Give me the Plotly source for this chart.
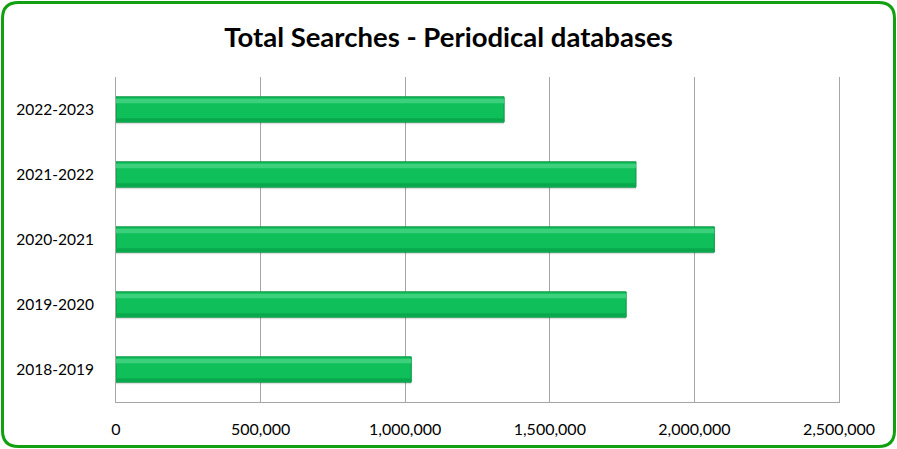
import plotly.graph_objects as go

categories = ["2018-2019", "2019-2020", "2020-2021", "2021-2022", "2022-2023"]
searches = [1021000, 1764000, 2069000, 1798000, 1342000]
tick_vals = [0, 500000, 1000000, 1500000, 2000000, 2500000]
tick_text = ["0", "500,000", "1,000,000", "1,500,000", "2,000,000", "2,500,000"]

W, H = 897, 449
L, R, T, B = 116, 58, 77, 47
pw, ph = W - L - R, H - T - B

fig = go.Figure()
bw = 0.39
# shadow
fig.add_trace(go.Bar(y=categories, x=searches, orientation="h", width=bw, offset=-bw/2 - 0.03,
                     marker=dict(color="rgba(0,0,0,0.12)", line=dict(width=0)), hoverinfo="skip"))
# main bar
fig.add_trace(go.Bar(y=categories, x=searches, orientation="h", width=bw, offset=-bw/2,
                     marker=dict(color="#0fbf5a", line=dict(color="#0a9444", width=1))))
# lighter top highlight
fig.add_trace(go.Bar(y=categories, x=searches, orientation="h", width=0.07, offset=bw/2 - 0.1,
                     marker=dict(color="#3ccf7c", line=dict(width=0)), hoverinfo="skip"))
# darker bottom band
fig.add_trace(go.Bar(y=categories, x=searches, orientation="h", width=0.05, offset=-bw/2 + 0.01,
                     marker=dict(color="#0aa84c", line=dict(width=0)), hoverinfo="skip"))

def px_x(p):
    return (p - L) / pw

def px_y(p):
    return (H - B - p) / ph

x0, x1, y0, y1, r = 2.5, 894.5, 2.5, 446.5, 16
path = (
    f"M {px_x(x0 + r)} {px_y(y0)} L {px_x(x1 - r)} {px_y(y0)} "
    f"Q {px_x(x1)} {px_y(y0)} {px_x(x1)} {px_y(y0 + r)} "
    f"L {px_x(x1)} {px_y(y1 - r)} Q {px_x(x1)} {px_y(y1)} {px_x(x1 - r)} {px_y(y1)} "
    f"L {px_x(x0 + r)} {px_y(y1)} Q {px_x(x0)} {px_y(y1)} {px_x(x0)} {px_y(y1 - r)} "
    f"L {px_x(x0)} {px_y(y0 + r)} Q {px_x(x0)} {px_y(y0)} {px_x(x0 + r)} {px_y(y0)} Z"
)

fig.update_layout(
    width=W, height=H,
    margin=dict(l=L, r=R, t=T, b=B),
    barmode="overlay",
    showlegend=False,
    paper_bgcolor="white", plot_bgcolor="white",
    font=dict(family="Lato, Carlito, 'Open Sans', sans-serif", size=16, color="black"),
    title=dict(text="<b>Total Searches - Periodical databases</b>", x=0.5, xanchor="center",
               y=1 - 37 / H, yanchor="middle", font=dict(size=27.5, color="black")),
    xaxis=dict(range=[0, 2500000], tickvals=tick_vals, ticktext=tick_text, showgrid=True,
               gridcolor="#a6a6a6", gridwidth=1, zeroline=False, showline=True,
               linecolor="#a6a6a6", linewidth=1, ticks="", ticklabelstandoff=13,
               tickfont=dict(size=16)),
    yaxis=dict(categoryorder="array", categoryarray=categories, showgrid=False, zeroline=False,
               showline=True, mirror=True, linecolor="#a6a6a6", linewidth=1, ticks="",
               ticklabelstandoff=18, tickfont=dict(size=15.5), range=[-0.5, 4.5]),
    shapes=[dict(type="path", path=path, xref="paper", yref="paper",
                 line=dict(color="#10a010", width=3), fillcolor="rgba(0,0,0,0)", layer="above")],
)

fig.write_html("out.html", config={"displayModeBar": False},
               post_script="document.body.style.margin='0px';document.body.style.overflow='hidden';")
